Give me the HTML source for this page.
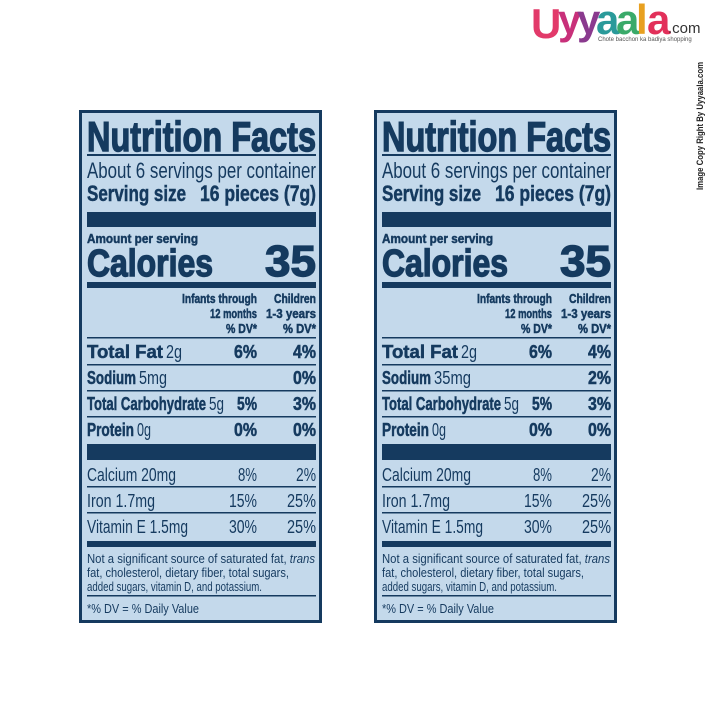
<!DOCTYPE html>
<html><head><meta charset="utf-8"><style>
html,body{margin:0;padding:0;background:#fff}
svg{display:block}
text{font-family:"Liberation Sans Narrow","Liberation Sans",sans-serif;fill:#153a5f}
.b{font-weight:bold;stroke:#153a5f;stroke-width:0.5}
.t{font-weight:bold;stroke:#153a5f;stroke-width:1.4}
</style></head><body>
<svg width="716" height="716" viewBox="0 0 716 716" xmlns="http://www.w3.org/2000/svg">
<defs>
<g id="common">
<rect x="1.5" y="1.5" width="240" height="510" fill="#c4d9eb" stroke="#153a5f" stroke-width="3"/>
<text class="t" x="8" y="41" font-size="42" textLength="229" lengthAdjust="spacingAndGlyphs">Nutrition Facts</text>
<rect x="8" y="44" width="229" height="2" fill="#153a5f"/>
<text x="8" y="68" font-size="22" textLength="229" lengthAdjust="spacingAndGlyphs">About 6 servings per container</text>
<text class="b" x="8" y="91" font-size="22" textLength="99" lengthAdjust="spacingAndGlyphs">Serving size</text>
<text class="b" x="121" y="91" font-size="22" textLength="116" lengthAdjust="spacingAndGlyphs">16 pieces (7g)</text>
<rect x="8" y="102" width="229" height="15" fill="#153a5f"/>
<text class="b" x="8" y="133" font-size="13" textLength="111" lengthAdjust="spacingAndGlyphs">Amount per serving</text>
<text class="t" x="8" y="166" font-size="38" textLength="126" lengthAdjust="spacingAndGlyphs">Calories</text>
<text class="t" x="186" y="166" font-size="44" textLength="51" lengthAdjust="spacingAndGlyphs">35</text>
<rect x="8" y="172" width="229" height="6" fill="#153a5f"/>
<g class="b" font-size="13">
<text x="103" y="193" textLength="75" lengthAdjust="spacingAndGlyphs">Infants through</text>
<text x="131" y="208" textLength="47" lengthAdjust="spacingAndGlyphs">12 months</text>
<text x="147" y="223" textLength="31" lengthAdjust="spacingAndGlyphs">% DV*</text>
<text x="195" y="193" textLength="42" lengthAdjust="spacingAndGlyphs">Children</text>
<text x="187" y="208" textLength="50" lengthAdjust="spacingAndGlyphs">1-3 years</text>
<text x="204" y="223" textLength="33" lengthAdjust="spacingAndGlyphs">% DV*</text>
</g>
<g fill="#153a5f">
<rect x="8" y="227" width="229" height="1.5"/>
<rect x="8" y="254" width="229" height="1.5"/>
<rect x="8" y="280" width="229" height="1.5"/>
<rect x="8" y="306" width="229" height="1.5"/>
<rect x="8" y="334" width="229" height="16"/>
<rect x="8" y="376" width="229" height="1.5"/>
<rect x="8" y="402" width="229" height="1.5"/>
<rect x="8" y="431" width="229" height="6"/>
<rect x="8" y="485" width="229" height="1.5"/>
</g>
<g font-size="18">
<text class="b" x="8" y="248" textLength="76" lengthAdjust="spacingAndGlyphs">Total Fat</text>
<text x="87" y="248" textLength="16" lengthAdjust="spacingAndGlyphs">2g</text>
<text class="b" x="155" y="248" textLength="23" lengthAdjust="spacingAndGlyphs">6%</text>
<text class="b" x="214" y="248" textLength="23" lengthAdjust="spacingAndGlyphs">4%</text>
<text class="b" x="8" y="300" textLength="119" lengthAdjust="spacingAndGlyphs">Total Carbohydrate</text>
<text x="130" y="300" textLength="15" lengthAdjust="spacingAndGlyphs">5g</text>
<text class="b" x="158" y="300" textLength="20" lengthAdjust="spacingAndGlyphs">5%</text>
<text class="b" x="214" y="300" textLength="23" lengthAdjust="spacingAndGlyphs">3%</text>
<text class="b" x="8" y="326" textLength="47" lengthAdjust="spacingAndGlyphs">Protein</text>
<text x="58" y="326" textLength="14" lengthAdjust="spacingAndGlyphs">0g</text>
<text class="b" x="155" y="326" textLength="23" lengthAdjust="spacingAndGlyphs">0%</text>
<text class="b" x="214" y="326" textLength="23" lengthAdjust="spacingAndGlyphs">0%</text>
<text x="8" y="371" textLength="89" lengthAdjust="spacingAndGlyphs">Calcium 20mg</text>
<text x="159" y="371" textLength="19" lengthAdjust="spacingAndGlyphs">8%</text>
<text x="217" y="371" textLength="20" lengthAdjust="spacingAndGlyphs">2%</text>
<text x="8" y="397" textLength="68" lengthAdjust="spacingAndGlyphs">Iron 1.7mg</text>
<text x="150" y="397" textLength="28" lengthAdjust="spacingAndGlyphs">15%</text>
<text x="208" y="397" textLength="29" lengthAdjust="spacingAndGlyphs">25%</text>
<text x="8" y="423" textLength="101" lengthAdjust="spacingAndGlyphs">Vitamin E 1.5mg</text>
<text x="150" y="423" textLength="28" lengthAdjust="spacingAndGlyphs">30%</text>
<text x="208" y="423" textLength="29" lengthAdjust="spacingAndGlyphs">25%</text>
</g>
<g font-size="13">
<text x="8" y="453" textLength="228" lengthAdjust="spacingAndGlyphs">Not a significant source of saturated fat, <tspan font-style="italic">trans</tspan></text>
<text x="8" y="467" textLength="202" lengthAdjust="spacingAndGlyphs">fat, cholesterol, dietary fiber, total sugars,</text>
<text x="8" y="481" textLength="175" lengthAdjust="spacingAndGlyphs">added sugars, vitamin D, and potassium.</text>
<text x="8" y="503" textLength="112" lengthAdjust="spacingAndGlyphs">*% DV = % Daily Value</text>
</g>
</g>
</defs>
<g transform="translate(79,110)">
<use href="#common"/>
<g font-size="18">
<text class="b" x="8" y="274" textLength="49" lengthAdjust="spacingAndGlyphs">Sodium</text>
<text x="60" y="274" textLength="28" lengthAdjust="spacingAndGlyphs">5mg</text>
<text class="b" x="214" y="274" textLength="23" lengthAdjust="spacingAndGlyphs">0%</text>
</g>
</g>
<g transform="translate(374,110)">
<use href="#common"/>
<g font-size="18">
<text class="b" x="8" y="274" textLength="49" lengthAdjust="spacingAndGlyphs">Sodium</text>
<text x="60" y="274" textLength="37" lengthAdjust="spacingAndGlyphs">35mg</text>
<text class="b" x="214" y="274" textLength="23" lengthAdjust="spacingAndGlyphs">2%</text>
</g>
</g>
<!-- logo -->
<g font-weight="bold" font-size="42">
<text x="531" y="38" style="fill:#e23a6a;font-family:'Liberation Sans',sans-serif">U</text>
<text x="558" y="34" style="fill:#c8307a;font-family:'Liberation Sans',sans-serif">y</text>
<text x="577" y="34" style="fill:#8a3a8e;font-family:'Liberation Sans',sans-serif">y</text>
<text x="596" y="34" style="fill:#2a9a9a;font-family:'Liberation Sans',sans-serif">a</text>
<text x="616" y="34" style="fill:#3aaa6a;font-family:'Liberation Sans',sans-serif">a</text>
<text x="636" y="34" style="fill:#e8a020;font-family:'Liberation Sans',sans-serif">l</text>
<text x="647" y="34" style="fill:#e2305a;font-family:'Liberation Sans',sans-serif">a</text>
</g>
<text x="668" y="33" font-size="15" style="fill:#333;font-family:'Liberation Sans',sans-serif">.com</text>
<text x="598" y="41" font-size="6" style="fill:#555;font-family:'Liberation Sans',sans-serif">Chote bacchon ka badiya shopping</text>
<text transform="translate(703,190) rotate(-90)" font-size="9" font-weight="bold" style="fill:#222;font-family:'Liberation Sans',sans-serif" textLength="128" lengthAdjust="spacingAndGlyphs">Image Copy Right By Uyyaala.com</text>
</svg>
</body></html>
